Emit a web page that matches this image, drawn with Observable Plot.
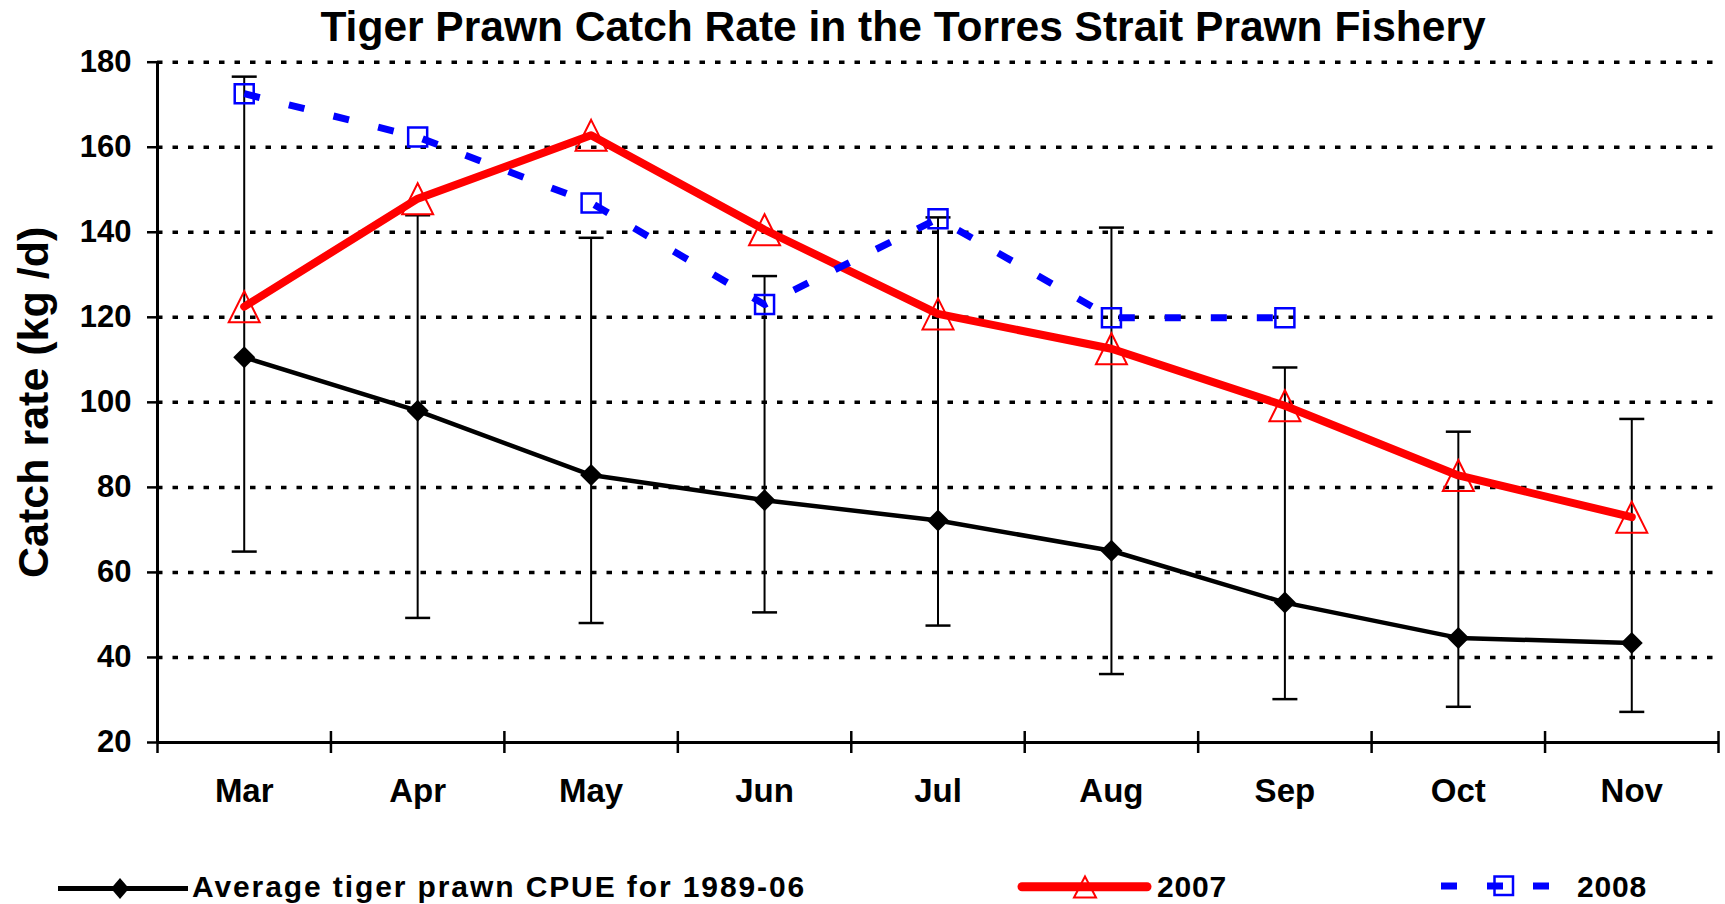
<!DOCTYPE html>
<html>
<head>
<meta charset="utf-8">
<script src="https://cdn.jsdelivr.net/npm/d3@7"></script>
<script src="https://cdn.jsdelivr.net/npm/@observablehq/plot@0.6"></script>
<style>
  html, body { margin: 0; padding: 0; background: #fff; }
  #wrap { position: relative; width: 1725px; height: 904px; background: #fff; overflow: hidden; }
  #title { position: absolute; top: 0; left: 0; width: 1725px; box-sizing: border-box; padding-left: 81px; padding-top: 2px;
           text-align: center; font: bold 42.5px "Liberation Sans", Arial, sans-serif; line-height: 50px; color: #000; white-space: nowrap; }
  #chart { position: absolute; top: 50px; left: 0; }
  #legend { position: absolute; top: 850px; left: 0; }
  svg { overflow: visible; }
</style>
</head>
<body>
<div id="wrap">
  <div id="title">Tiger Prawn Catch Rate in the Torres Strait Prawn Fishery</div>
  <div id="chart"></div>
  <div id="legend"></div>
</div>
<script>
// ---- data ----
const months = ["Mar", "Apr", "May", "Jun", "Jul", "Aug", "Sep", "Oct", "Nov"];
const avgCpue  = [110.6, 98.0, 82.9, 77.0, 72.2, 65.1, 52.9, 44.6, 43.4];
const avgUpper = [176.6, 144.0, 138.7, 129.7, 143.5, 141.1, 108.2, 93.1, 96.1];
const avgLower = [64.9, 49.3, 48.1, 50.6, 47.5, 36.1, 30.2, 28.4, 27.2];
const catch2007 = [122.5, 147.9, 162.8, 140.6, 120.8, 112.6, 99.2, 82.8, 73.0];
const catch2008 = [172.6, 162.4, 146.9, 123.0, 143.2, 119.9, 119.9];
const yTicks = [20, 40, 60, 80, 100, 120, 140, 160, 180];
const seriesNames = ["Average tiger prawn CPUE for 1989-06", "2007", "2008"];
const titleText = "Tiger Prawn Catch Rate in the Torres Strait Prawn Fishery";
const yLabel = "Catch rate (kg /d)";

// ---- tables ----
const avgData = months.map((m, i) => ({x: i + 0.5, y: avgCpue[i], hi: avgUpper[i], lo: avgLower[i]}));
const d2007 = catch2007.map((v, i) => ({x: i + 0.5, y: v}));
const d2008 = catch2008.map((v, i) => ({x: i + 0.5, y: v}));
const bandEdges = d3.range(0, months.length + 1);
const monthCenters = months.map((m, i) => i + 0.5);

// ---- custom symbols (r = half extent) ----
const R = size => Math.sqrt(size / Math.PI);
const diamond = {draw(c, s) { const r = R(s); c.moveTo(0, -r); c.lineTo(r, 0); c.lineTo(0, r); c.lineTo(-r, 0); c.closePath(); }};
const triangle = {draw(c, s) { const r = R(s); c.moveTo(0, -r); c.lineTo(r, r); c.lineTo(-r, r); c.closePath(); }};
const square = {draw(c, s) { const r = R(s); c.rect(-r, -r, 2 * r, 2 * r); }};
const cap = {draw(c, s) { const r = R(s); c.moveTo(-r, 0); c.lineTo(r, 0); }};

const FONT = "'Liberation Sans', Arial, sans-serif";
document.getElementById("title").textContent = titleText;

const chart = Plot.plot({
  width: 1725,
  height: 800,
  marginLeft: 157,
  marginRight: 7,
  marginTop: 11.7,
  marginBottom: 108,
  style: {fontFamily: FONT, fontWeight: "bold", color: "#000", background: "#fff", overflow: "visible"},
  x: {type: "linear", domain: [0, months.length]},
  y: {type: "linear", domain: [20, 180]},
  marks: [
    // dotted gridlines
    Plot.ruleY(yTicks.filter(v => v > 20), {stroke: "#000", strokeWidth: 3.5, strokeDasharray: "5.5,10"}),
    // error bars
    Plot.ruleX(avgData, {x: "x", y1: "lo", y2: "hi", stroke: "#000", strokeWidth: 2}),
    Plot.dot(avgData, {x: "x", y: "hi", r: 12.5, symbol: cap, stroke: "#000", strokeWidth: 2.5, fill: "none"}),
    Plot.dot(avgData, {x: "x", y: "lo", r: 12.5, symbol: cap, stroke: "#000", strokeWidth: 2.5, fill: "none"}),
    // axis lines
    Plot.ruleY([20], {stroke: "#000", strokeWidth: 3}),
    Plot.ruleX([0], {stroke: "#000", strokeWidth: 3}),
    // x category boundary ticks crossing the axis
    Plot.ruleX(bandEdges, {x: d => d, y1: 20, y2: 20, insetTop: -11, insetBottom: -11, stroke: "#000", strokeWidth: 2.5}),
    // y axis ticks and labels
    Plot.axisY(yTicks, {anchor: "left", tickSize: 10, tickPadding: 16, fontSize: 31, fontWeight: "bold", strokeWidth: 2.5, label: null}),
    Plot.axisY([], {anchor: "left", tickSize: 0, label: yLabel, labelAnchor: "center", labelArrow: "none", labelOffset: 140, fontSize: 43, fontWeight: "bold"}),
    // x axis month labels
    Plot.axisX(monthCenters, {anchor: "bottom", tickSize: 0, tickPadding: 36, fontSize: 33, fontWeight: "bold", tickFormat: d => months[Math.floor(d)], label: null}),
    // average series
    Plot.line(avgData, {x: "x", y: "y", stroke: "#000", strokeWidth: 4.5, strokeLinejoin: "round"}),
    Plot.dot(avgData, {x: "x", y: "y", r: 11, symbol: diamond, fill: "#000", stroke: "none"}),
    // 2007
    Plot.line(d2007, {x: "x", y: "y", stroke: "#ff0000", strokeWidth: 8, strokeLinejoin: "round", strokeLinecap: "round"}),
    Plot.dot(d2007, {x: "x", y: "y", r: 15.5, symbol: triangle, fill: "none", stroke: "#ff0000", strokeWidth: 2}),
    // 2008
    Plot.dot(d2008, {x: "x", y: "y", r: 9.5, symbol: square, fill: "none", stroke: "#0000ff", strokeWidth: 2.5}),
    Plot.line(d2008, {x: "x", y: "y", stroke: "#0000ff", strokeWidth: 7, strokeDasharray: "16,30", strokeLinecap: "butt"})
  ]
});
document.getElementById("chart").appendChild(chart);

// ---- legend (below the chart) ----
const lg = d3.select("#legend").append("svg").attr("width", 1725).attr("height", 54)
  .style("font-family", FONT).style("font-weight", "bold");
const ty = 46.7;
// average
lg.append("line").attr("x1", 58).attr("x2", 188).attr("y1", 38.5).attr("y2", 38.5).attr("stroke", "#000").attr("stroke-width", 5);
lg.append("path").attr("d", "M120,28 L129,38.5 L120,49 L111,38.5 Z").attr("fill", "#000");
lg.append("text").attr("x", 192).attr("y", ty).attr("font-size", 30).attr("letter-spacing", 1.9).text(seriesNames[0]);
// 2007
lg.append("line").attr("x1", 1022).attr("x2", 1147).attr("y1", 36.7).attr("y2", 36.7).attr("stroke", "#ff0000").attr("stroke-width", 9).attr("stroke-linecap", "round");
lg.append("path").attr("d", "M1085,26.5 L1096,47.5 L1074,47.5 Z").attr("fill", "none").attr("stroke", "#ff0000").attr("stroke-width", 2);
lg.append("text").attr("x", 1157).attr("y", ty).attr("font-size", 30).attr("letter-spacing", 0.8).text(seriesNames[1]);
// 2008
lg.append("line").attr("x1", 1441).attr("x2", 1549).attr("y1", 36).attr("y2", 36).attr("stroke", "#0000ff").attr("stroke-width", 7).attr("stroke-dasharray", "16,30");
lg.append("rect").attr("x", 1494.5).attr("y", 26.5).attr("width", 18.5).attr("height", 18.5).attr("fill", "none").attr("stroke", "#0000ff").attr("stroke-width", 2.5);
lg.append("text").attr("x", 1577).attr("y", ty).attr("font-size", 30).attr("letter-spacing", 0.8).text(seriesNames[2]);
</script>
</body>
</html>
